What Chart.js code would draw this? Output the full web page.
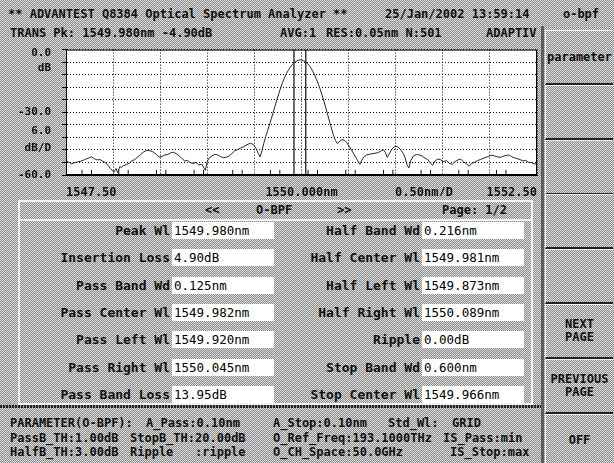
<!DOCTYPE html>
<html>
<head>
<meta charset="utf-8">
<script src="https://cdn.jsdelivr.net/npm/chart.js@4.4.1/dist/chart.umd.min.js"></script>
<style>
html, body { margin: 0; padding: 0; }
body {
    width: 614px; height: 463px; position: relative; overflow: hidden;
    background-color: #b4b4b4;
    background-image: repeating-conic-gradient(#8e8e8e 0 25%, #dadada 0 50%);
    background-size: 2px 2px;
    font-family: "DejaVu Sans Mono", monospace; font-weight: bold; font-size: 12px; color: #111;
}
.t { position: absolute; white-space: pre; line-height: 14px; }
#plot { position: absolute; left: 0; top: 40px; }
.panel { position: absolute; left: 18px; top: 200px; width: 511px; height: 201px; border: 2px solid #f2f2f2; }
.hdrline { position: absolute; left: 18px; top: 219px; width: 515px; height: 2px; background: #f2f2f2; }
.lbl { position: absolute; text-align: right; font-size: 13px; line-height: 17px; white-space: pre; }
.val { position: absolute; width: 100px; height: 17px; background: #fff; padding-left: 2px;
       font-weight: normal; font-size: 12.5px; line-height: 17px; color: #000; white-space: pre; }
.sep { position: absolute; left: 0; top: 405px; width: 541px; height: 3px;
       background: repeating-linear-gradient(90deg, #222 0 2px, #999 2px 3px); }
.vbar { position: absolute; left: 541px; top: 26px; width: 3px; height: 437px; background: #5e5e5e; }
.key { position: absolute; left: 545px; width: 68px; box-sizing: border-box; overflow: hidden;
       border-top: 1px solid #f0f0f0; border-left: 1px solid #f0f0f0; border-bottom: 2px solid #222;
       display: flex; align-items: center; justify-content: center; text-align: center;
       line-height: 13px; white-space: pre; }
</style>
</head>
<body>
<div class="t" style="left:8px;top:7px">** ADVANTEST Q8384 Optical Spectrum Analyzer **</div>
<div class="t" style="left:385px;top:7px">25/Jan/2002 13:59:14</div>
<div class="t" style="left:548px;top:7px;width:66px;text-align:center">o-bpf</div>

<div class="t" style="left:10px;top:26px">TRANS Pk: 1549.980nm -4.90dB</div>
<div class="t" style="left:280px;top:26px">AVG:1</div>
<div class="t" style="left:326px;top:26px">RES:0.05nm N:501</div>
<div class="t" style="left:486px;top:26px">ADAPTIV</div>

<canvas id="plot" width="541" height="156"></canvas>

<div class="panel"></div>
<div class="hdrline"></div>
<div class="t" style="left:205px;top:203px">&lt;&lt;</div>
<div class="t" style="left:256px;top:203px">O-BPF</div>
<div class="t" style="left:337px;top:203px">&gt;&gt;</div>
<div class="t" style="left:442px;top:203px">Page: 1/2</div>
<div id="rows"></div>

<div class="sep"></div>
<div class="vbar"></div>
<div id="keys"></div>

<div class="t" style="left:10px;top:416px">PARAMETER(O-BPF):</div>
<div class="t" style="left:146px;top:416px">A_Pass:0.10nm</div>
<div class="t" style="left:273px;top:416px">A_Stop:0.10nm</div>
<div class="t" style="left:388px;top:416px">Std_Wl:</div>
<div class="t" style="left:452px;top:416px">GRID</div>
<div class="t" style="left:10px;top:431px">PassB_TH:1.00dB</div>
<div class="t" style="left:130px;top:431px">StopB_TH:20.00dB</div>
<div class="t" style="left:273px;top:431px">O_Ref_Freq:193.1000THz</div>
<div class="t" style="left:443px;top:431px">IS_Pass:min</div>
<div class="t" style="left:10px;top:445px">HalfB_TH:3.00dB</div>
<div class="t" style="left:130px;top:445px">Ripple</div>
<div class="t" style="left:195px;top:445px">:ripple</div>
<div class="t" style="left:273px;top:445px">O_CH_Space:50.0GHz</div>
<div class="t" style="left:450px;top:445px">IS_Stop:max</div>

<script>
// Trace data (wavelength nm, level dB)
const wavelengths = [
    1547.50, 1547.53, 1547.56, 1547.59, 1547.62, 1547.65, 1547.68, 1547.71, 1547.74, 1547.77,
    1547.80, 1547.83, 1547.86, 1547.89, 1547.92, 1547.95, 1547.97, 1547.99, 1548.01, 1548.03,
    1548.05, 1548.07, 1548.09, 1548.11, 1548.14, 1548.17, 1548.20, 1548.23, 1548.26, 1548.29,
    1548.32, 1548.36, 1548.40, 1548.43, 1548.46, 1548.49, 1548.52, 1548.55, 1548.58, 1548.61,
    1548.64, 1548.67, 1548.70, 1548.73, 1548.76, 1548.79, 1548.82, 1548.85, 1548.88, 1548.91,
    1548.94, 1548.96, 1548.98, 1549.00, 1549.02, 1549.05, 1549.08, 1549.11, 1549.14, 1549.17,
    1549.20, 1549.23, 1549.26, 1549.29, 1549.32, 1549.35, 1549.38, 1549.41, 1549.44, 1549.46,
    1549.49, 1549.52, 1549.54, 1549.56, 1549.58, 1549.60, 1549.62, 1549.64, 1549.66, 1549.68,
    1549.70, 1549.72, 1549.74, 1549.76, 1549.78, 1549.80, 1549.82, 1549.84, 1549.86, 1549.88,
    1549.90, 1549.92, 1549.94, 1549.96, 1549.98, 1550.00, 1550.02, 1550.04, 1550.06, 1550.08,
    1550.10, 1550.12, 1550.14, 1550.16, 1550.18, 1550.20, 1550.22, 1550.24, 1550.26, 1550.28,
    1550.30, 1550.32, 1550.34, 1550.36, 1550.38, 1550.40, 1550.42, 1550.44, 1550.46, 1550.48,
    1550.50, 1550.53, 1550.56, 1550.59, 1550.62, 1550.64, 1550.66, 1550.69, 1550.72, 1550.75,
    1550.78, 1550.81, 1550.84, 1550.87, 1550.89, 1550.91, 1550.93, 1550.96, 1550.99, 1551.02,
    1551.05, 1551.08, 1551.10, 1551.12, 1551.14, 1551.16, 1551.19, 1551.22, 1551.25, 1551.28,
    1551.31, 1551.34, 1551.37, 1551.39, 1551.42, 1551.45, 1551.48, 1551.51, 1551.54, 1551.57,
    1551.60, 1551.63, 1551.66, 1551.69, 1551.72, 1551.75, 1551.78, 1551.81, 1551.84, 1551.87,
    1551.90, 1551.93, 1551.96, 1551.99, 1552.02, 1552.05, 1552.08, 1552.11, 1552.14, 1552.17,
    1552.20, 1552.23, 1552.26, 1552.29, 1552.32, 1552.35, 1552.38, 1552.41, 1552.44, 1552.47,
    1552.50
];
const powers = [
    -53.4, -53.9, -54.6, -54.2, -53.8, -53.5, -53.0, -52.4, -51.9, -51.3,
    -52.2, -52.8, -52.6, -53.4, -54.1, -55.6, -56.8, -57.7, -58.6, -56.9,
    -58.9, -56.0, -56.4, -55.5, -55.1, -54.4, -53.2, -52.6, -51.4, -50.3,
    -49.1, -48.2, -48.5, -49.1, -50.2, -51.4, -51.1, -50.4, -50.2, -49.4,
    -49.1, -49.8, -50.8, -52.0, -53.3, -53.0, -54.1, -54.5, -54.0, -55.2,
    -54.8, -56.2, -57.8, -53.5, -51.8, -50.9, -50.1, -50.4, -51.2, -51.7,
    -51.5, -51.0, -49.8, -48.5, -47.9, -47.2, -46.6, -45.8, -45.1, -44.8,
    -45.5, -47.4, -49.6, -51.3, -48.5, -44.8, -41.6, -38.8, -35.9, -33.0,
    -30.0, -26.9, -23.8, -20.9, -18.1, -15.6, -13.4, -11.5, -9.9, -8.5,
    -7.3, -6.4, -5.7, -5.2, -4.9, -5.0, -5.3, -5.8, -6.5, -7.5,
    -8.8, -10.4, -12.2, -14.3, -16.6, -19.2, -22.0, -25.0, -28.2, -31.5,
    -34.8, -38.0, -41.0, -43.4, -44.9, -44.3, -43.3, -43.1, -43.6, -44.5,
    -45.9, -48.0, -50.3, -52.6, -54.9, -53.0, -51.4, -50.4, -50.1, -49.8,
    -49.6, -49.3, -48.6, -47.9, -49.2, -51.6, -50.0, -47.6, -46.3, -46.5,
    -47.7, -49.6, -51.8, -55.2, -56.6, -53.1, -50.8, -50.2, -50.4, -50.9,
    -51.9, -52.6, -54.3, -55.4, -53.2, -52.3, -52.8, -53.6, -53.1, -54.5,
    -54.9, -53.6, -52.8, -52.4, -53.7, -54.6, -55.8, -54.3, -53.9, -53.1,
    -52.6, -52.0, -51.5, -51.0, -50.5, -50.9, -51.3, -51.6, -51.0, -50.7,
    -50.4, -51.2, -51.8, -52.2, -52.6, -53.3, -53.0, -53.9, -54.1, -54.6,
    -54.9
];

// Pass band markers and 50 GHz ITU grid channels (nm)
const markerWl = [1549.920, 1550.045];
const ituGridWl = [1547.72, 1548.11, 1548.51, 1548.91, 1549.32, 1549.72, 1550.12, 1550.52, 1550.92, 1551.32, 1551.72, 1552.12];
const passHalfWidth = 0.05;

// Axis annotations
const yLabelVals = [-1.5, -9, -30, -39, -47, -60];
const yLabelText = ['0.0', 'dB', '-30.0', '6.0', 'dB/D', '-60.0'];
const xLabelVals = [1547.5, 1550.0, 1551.3, 1552.5];
const xLabelText = ['1547.50', '1550.000nm', '0.50nm/D', '1552.50'];

// Result table
const leftNames = ['Peak Wl', 'Insertion Loss', 'Pass Band Wd', 'Pass Center Wl', 'Pass Left Wl', 'Pass Right Wl', 'Pass Band Loss'];
const leftValues = ['1549.980nm', '4.90dB', '0.125nm', '1549.982nm', '1549.920nm', '1550.045nm', '13.95dB'];
const rightNames = ['Half Band Wd', 'Half Center Wl', 'Half Left Wl', 'Half Right Wl', 'Ripple', 'Stop Band Wd', 'Stop Center Wl'];
const rightValues = ['0.216nm', '1549.981nm', '1549.873nm', '1550.089nm', '0.00dB', '0.600nm', '1549.966nm'];

const softKeys = ['parameter', '', '', '', '', 'NEXT\nPAGE', 'PREVIOUS\nPAGE', 'OFF'];

document.addEventListener('DOMContentLoaded', () => {
    buildTable();
    buildKeys();
    createPlot();
});

function buildTable() {
    const rows = document.getElementById('rows');
    let html = '';
    leftNames.forEach((name, i) => {
        const top = 222 + Math.round(i * 27.3);
        html += `<div class="lbl" style="right:${614 - 170}px;top:${top}px">${name}</div>`;
        html += `<div class="val" style="left:172px;top:${top}px">${leftValues[i]}</div>`;
        html += `<div class="lbl" style="right:${614 - 420}px;top:${top}px">${rightNames[i]}</div>`;
        html += `<div class="val" style="left:422px;top:${top}px">${rightValues[i]}</div>`;
    });
    rows.innerHTML = html;
}

function buildKeys() {
    const keys = document.getElementById('keys');
    let html = '';
    softKeys.forEach((k, i) => {
        const top = 30 + i * 54.8;
        html += `<div class="key" style="top:${top}px;height:55px">${k}</div>`;
    });
    keys.innerHTML = html;
}

function createPlot() {
    const trace = wavelengths.map((w, i) => ({ x: w, y: powers[i] }));

    const markers = [];
    markerWl.forEach(w => {
        markers.push({ x: w, y: -60 }, { x: w, y: 0 }, { x: w, y: null });
    });

    const ituTicks = [];
    ituGridWl.forEach(c => {
        [c - passHalfWidth, c + passHalfWidth].forEach(w => {
            ituTicks.push({ x: w, y: -60 }, { x: w, y: -57.5 }, { x: w, y: null });
        });
    });

    const plotFrame = {
        id: 'plotFrame',
        beforeDraw(chart) {
            const a = chart.chartArea;
            chart.ctx.save();
            chart.ctx.fillStyle = '#ffffff';
            chart.ctx.fillRect(a.left, a.top, a.right - a.left, a.bottom - a.top);
            chart.ctx.restore();
        },
        afterDraw(chart) {
            const a = chart.chartArea;
            const ctx = chart.ctx;
            ctx.save();
            ctx.strokeStyle = '#000';
            ctx.lineWidth = 1;
            ctx.strokeRect(a.left + 0.5, a.top + 0.5, a.right - a.left - 1, a.bottom - a.top - 1);
            ctx.restore();
        }
    };

    const labelFont = { family: 'DejaVu Sans Mono', size: 12, weight: 'bold' };

    const ctx = document.getElementById('plot').getContext('2d');
    new Chart(ctx, {
        type: 'line',
        data: {
            datasets: [
                {
                    data: trace,
                    borderColor: '#262626',
                    borderWidth: 1,
                    pointRadius: 0,
                    tension: 0
                },
                {
                    data: markers,
                    borderColor: '#3a3a3a',
                    borderWidth: 1.5,
                    pointRadius: 0,
                    spanGaps: false
                },
                {
                    data: ituTicks,
                    borderColor: '#111',
                    borderWidth: 1,
                    pointRadius: 0,
                    spanGaps: false
                }
            ]
        },
        options: {
            responsive: false,
            animation: false,
            layout: { padding: { top: 8, right: 4, left: 0, bottom: 0 } },
            plugins: {
                legend: { display: false },
                tooltip: { enabled: false }
            },
            scales: {
                x: {
                    type: 'linear',
                    position: 'bottom',
                    weight: 0,
                    min: 1547.5,
                    max: 1552.5,
                    ticks: { display: false, stepSize: 0.5 },
                    grid: { color: '#000', lineWidth: 1, drawTicks: false },
                    border: { display: true, color: '#000', dash: [1, 2] }
                },
                xl: {
                    type: 'linear',
                    position: 'bottom',
                    weight: 1,
                    min: 1547.5,
                    max: 1552.5,
                    afterBuildTicks: s => { s.ticks = xLabelVals.map(v => ({ value: v })); },
                    afterFit: s => { s.height = 21; },
                    ticks: {
                        align: 'inner',
                        autoSkip: false,
                        maxRotation: 0,
                        padding: 3,
                        color: '#111',
                        font: labelFont,
                        callback: (v, i) => xLabelText[i]
                    },
                    grid: { display: false },
                    border: { display: false }
                },
                y: {
                    type: 'linear',
                    position: 'left',
                    weight: 0,
                    min: -60,
                    max: 0,
                    ticks: { display: false, stepSize: 6 },
                    grid: { color: '#000', lineWidth: 1, drawTicks: true, tickLength: 4, tickBorderDash: [] },
                    border: { display: true, color: '#000', dash: [1, 2] }
                },
                yl: {
                    type: 'linear',
                    position: 'left',
                    weight: 1,
                    min: -60,
                    max: 0,
                    afterBuildTicks: s => { s.ticks = yLabelVals.map(v => ({ value: v })); },
                    afterFit: s => { s.width = 62; },
                    ticks: {
                        autoSkip: false,
                        padding: 3,
                        color: '#111',
                        font: { family: 'DejaVu Sans Mono', size: 11, weight: 'bold' },
                        callback: (v, i) => yLabelText[i]
                    },
                    grid: { display: false },
                    border: { display: false }
                }
            }
        },
        plugins: [plotFrame]
    });
}
</script>
</body>
</html>
